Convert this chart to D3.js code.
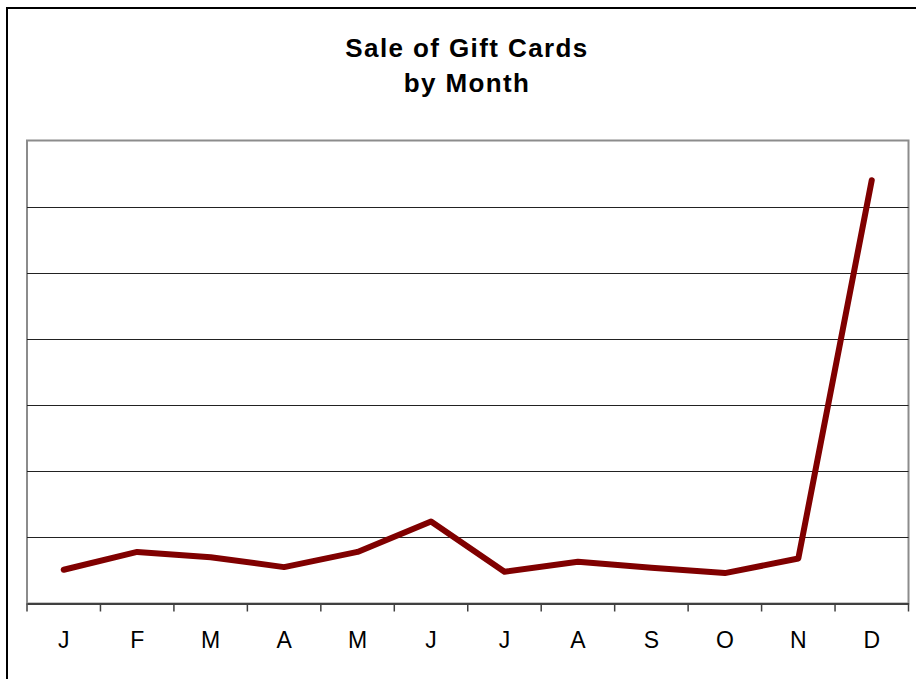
<!DOCTYPE html>
<html>
<head>
<meta charset="utf-8">
<script src="https://cdn.jsdelivr.net/npm/d3@7"></script>
<style>
  body { margin: 0; background: #fff; }
  svg { display: block; font-family: "Liberation Sans", Arial, sans-serif; }
</style>
</head>
<body>
<div id="chart"></div>
<script>
// chart data
const months = ['J', 'F', 'M', 'A', 'M', 'J', 'J', 'A', 'S', 'O', 'N', 'D'];
const sales  = [5.1, 7.8, 7.0, 5.5, 7.8, 12.4, 4.8, 6.3, 5.4, 4.6, 6.8, 64];
const gridValues = [10, 20, 30, 40, 50, 60];
const titleLines = ['Sale of Gift Cards', 'by Month'];

const width = 916, height = 679;
const plot = { left: 27, top: 140.5, right: 908.5, bottom: 603.5 };

const svg = d3.select('#chart')
  .append('svg')
    .attr('width', width)
    .attr('height', height);

// outer chart border (runs off the right/bottom edges)
svg.append('rect')
  .attr('x', 7).attr('y', 8)
  .attr('width', 1000).attr('height', 1000)
  .attr('fill', 'none')
  .attr('stroke', '#000')
  .attr('stroke-width', 2);

// title
svg.append('text')
  .attr('text-anchor', 'middle')
  .attr('font-weight', 'bold')
  .attr('font-size', 26)
  .attr('letter-spacing', 1.4)
  .selectAll('tspan')
  .data(titleLines)
  .join('tspan')
    .attr('x', 467)
    .attr('y', (d, i) => 56.5 + i * 35.5)
    .text(d => d);

// scales
const idx = months.map((d, i) => i);
const x = d3.scaleBand()
  .domain(idx)
  .range([plot.left, plot.right]);

const y = d3.scaleLinear()
  .domain([0, 70])
  .range([plot.bottom, plot.top]);

// plot area border
svg.append('rect')
  .attr('x', plot.left).attr('y', plot.top)
  .attr('width', plot.right - plot.left)
  .attr('height', plot.bottom - plot.top)
  .attr('fill', 'none')
  .attr('stroke', '#8c8c8c')
  .attr('stroke-width', 2);

// gridlines
svg.append('g')
  .selectAll('line')
  .data(gridValues)
  .join('line')
    .attr('x1', plot.left).attr('x2', plot.right)
    .attr('y1', d => Math.round(y(d)) + 0.5)
    .attr('y2', d => Math.round(y(d)) + 0.5)
    .attr('stroke', '#222')
    .attr('stroke-width', 1);

// x axis
const xAxis = svg.append('g')
  .attr('transform', `translate(0,${plot.bottom})`)
  .call(d3.axisBottom(x).tickSize(0).tickFormat(i => months[i]));
xAxis.select('.domain')
  .attr('stroke', '#404040')
  .attr('stroke-width', 2);
xAxis.selectAll('text')
  .attr('font-size', 23)
  .attr('font-family', '"Liberation Sans", Arial, sans-serif')
  .attr('fill', '#000')
  .attr('dy', 0)
  .attr('y', 44);

// tick marks on category boundaries
const bounds = idx.map(i => x(i)).concat([plot.right]);
svg.append('g')
  .selectAll('line')
  .data(bounds)
  .join('line')
    .attr('x1', d => d).attr('x2', d => d)
    .attr('y1', plot.bottom).attr('y2', plot.bottom + 8)
    .attr('stroke', '#404040')
    .attr('stroke-width', 1.5);

// sales line
const line = d3.line()
  .x((d, i) => x(i) + x.bandwidth() / 2)
  .y(d => y(d));

svg.append('path')
  .datum(sales)
  .attr('d', line)
  .attr('fill', 'none')
  .attr('stroke', '#800000')
  .attr('stroke-width', 6)
  .attr('stroke-linejoin', 'round')
  .attr('stroke-linecap', 'round');
</script>
</body>
</html>
